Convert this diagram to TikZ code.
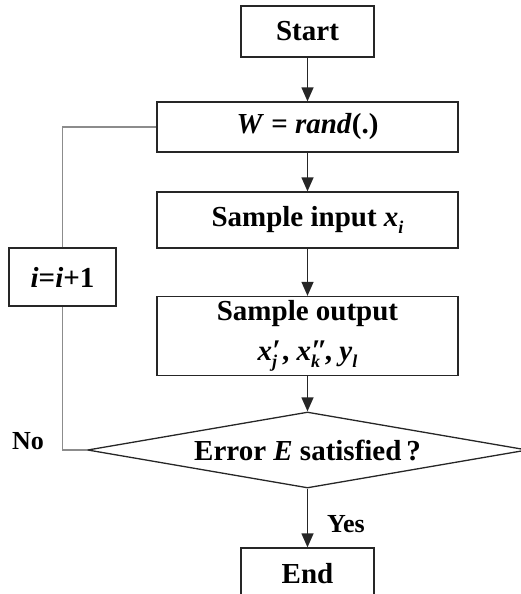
\documentclass[tikz,border=0pt]{standalone}
\usepackage{fontspec}
\setmainfont{Liberation Serif}
\usetikzlibrary{arrows.meta,shapes.geometric}

% variable with a prime mark above its subscript
\newcommand\varss[3]{\textit{#1}\makebox[0pt][l]{\raisebox{0.05ex}{\fontsize{30}{30}\selectfont\textit{#2}}}\raisebox{-0.5ex}{\fontsize{18}{18}\selectfont\textit{#3}}}
\newcommand\varsub[2]{\textit{#1}\raisebox{-0.5ex}{\fontsize{18}{18}\selectfont\textit{#2}}}

\tikzset{
  flowbox/.style={draw=black!85, line width=1.3pt, inner sep=0pt, align=center,
    font=\fontsize{29}{42}\selectfont\bfseries},
  flowarrow/.style={line width=1.3pt, draw=black!85,
    -{Triangle[length=14pt,width=12pt]}},
  loopline/.style={line width=1.4pt, draw=black!45},
  tag/.style={font=\fontsize{26}{30}\selectfont\bfseries, inner sep=0pt}
}

\begin{document}
\begin{tikzpicture}[x=1pt,y=-1pt]
  \useasboundingbox (0,0) rectangle (521,594);
  \clip (0,0) rectangle (521,594);

  \node[flowbox, minimum width=133pt, minimum height=51pt] (start) at (307.5,31.5) {Start};
  \node[flowbox, minimum width=301pt, minimum height=50pt] (init) at (307.5,127) {\textit{W} = \textit{rand}(.)};
  \node[flowbox, minimum width=301pt, minimum height=56pt] (input) at (307.5,220) {Sample input \varsub{x}{i}};
  \node[flowbox, minimum width=301pt, minimum height=79pt] (output) at (307.5,336)
    {Sample output\\[-2pt]\varss{x}{′}{j}\,, \varss{x}{″}{k}\,, \varsub{y}{l}};
  \node[flowbox, diamond, aspect=5.8, minimum width=440pt, minimum height=76pt] (check) at (307.5,450)
    {Error \textit{E} satisfied\,?};
  \node[flowbox, minimum width=133pt, minimum height=51pt] (stop) at (307.5,573.5) {End};
  \node[flowbox, minimum width=107pt, minimum height=58pt] (incr) at (62.5,277) {\textit{i}=\textit{i}+1};

  \draw[flowarrow] (start) -- (init);
  \draw[flowarrow] (init) -- (input);
  \draw[flowarrow] (input) -- (output);
  \draw[flowarrow] (output) -- (check);
  \draw[flowarrow] (check) -- (stop);

  \draw[loopline] (check.west) -| (incr.south);
  \draw[loopline] (incr.north) |- (init.west);

  \node[tag] (yes) at (346,524) {Yes};
  \node[tag] (no) at (28,441) {No};
\end{tikzpicture}
\end{document}
